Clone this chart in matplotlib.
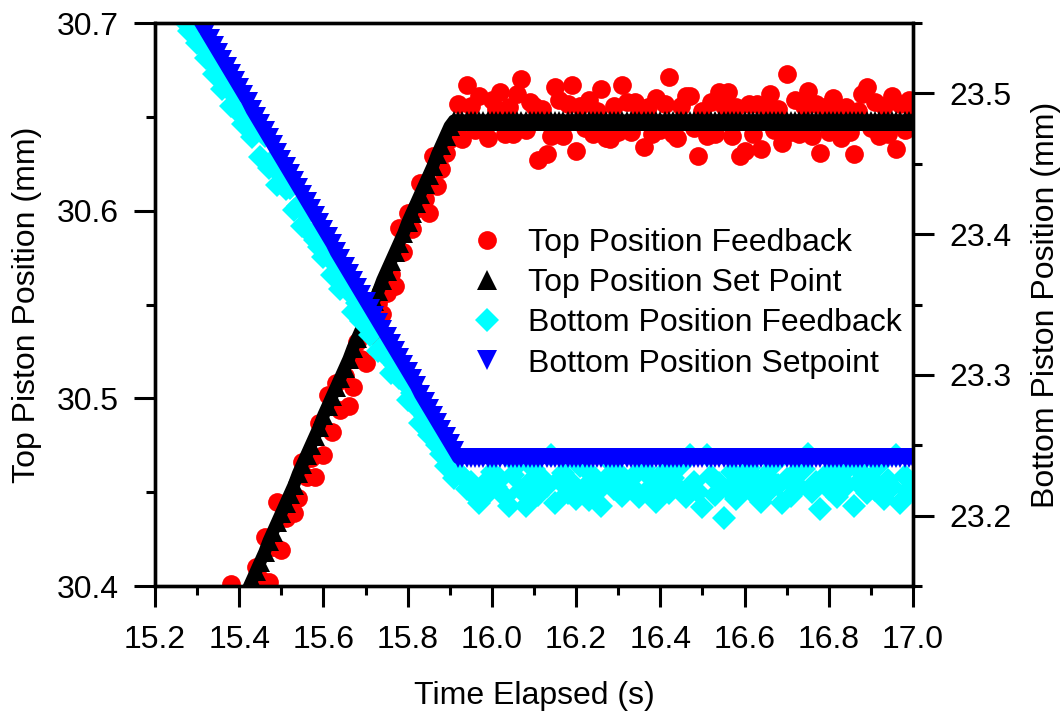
import matplotlib
matplotlib.use("Agg")
import matplotlib.pyplot as plt
from matplotlib.ticker import MultipleLocator, FormatStrFormatter

# sample clock (s), 0.01 s steps
time_s = [
    15.20, 15.21, 15.22, 15.23, 15.24, 15.25, 15.26, 15.27, 15.28, 15.29,
    15.30, 15.31, 15.32, 15.33, 15.34, 15.35, 15.36, 15.37, 15.38, 15.39,
    15.40, 15.41, 15.42, 15.43, 15.44, 15.45, 15.46, 15.47, 15.48, 15.49,
    15.50, 15.51, 15.52, 15.53, 15.54, 15.55, 15.56, 15.57, 15.58, 15.59,
    15.60, 15.61, 15.62, 15.63, 15.64, 15.65, 15.66, 15.67, 15.68, 15.69,
    15.70, 15.71, 15.72, 15.73, 15.74, 15.75, 15.76, 15.77, 15.78, 15.79,
    15.80, 15.81, 15.82, 15.83, 15.84, 15.85, 15.86, 15.87, 15.88, 15.89,
    15.90, 15.91, 15.92, 15.93, 15.94, 15.95, 15.96, 15.97, 15.98, 15.99,
    16.00, 16.01, 16.02, 16.03, 16.04, 16.05, 16.06, 16.07, 16.08, 16.09,
    16.10, 16.11, 16.12, 16.13, 16.14, 16.15, 16.16, 16.17, 16.18, 16.19,
    16.20, 16.21, 16.22, 16.23, 16.24, 16.25, 16.26, 16.27, 16.28, 16.29,
    16.30, 16.31, 16.32, 16.33, 16.34, 16.35, 16.36, 16.37, 16.38, 16.39,
    16.40, 16.41, 16.42, 16.43, 16.44, 16.45, 16.46, 16.47, 16.48, 16.49,
    16.50, 16.51, 16.52, 16.53, 16.54, 16.55, 16.56, 16.57, 16.58, 16.59,
    16.60, 16.61, 16.62, 16.63, 16.64, 16.65, 16.66, 16.67, 16.68, 16.69,
    16.70, 16.71, 16.72, 16.73, 16.74, 16.75, 16.76, 16.77, 16.78, 16.79,
    16.80, 16.81, 16.82, 16.83, 16.84, 16.85, 16.86, 16.87, 16.88, 16.89,
    16.90, 16.91, 16.92, 16.93, 16.94, 16.95, 16.96, 16.97, 16.98, 16.99,
    17.00,
]

# top piston (mm), from 15.37 s to 17.00 s
top_setpoint = [
    30.372, 30.377, 30.382, 30.388, 30.393, 30.398, 30.403, 30.408, 30.413, 30.418,
    30.424, 30.429, 30.434, 30.439, 30.444, 30.449, 30.454, 30.460, 30.465, 30.470,
    30.475, 30.480, 30.485, 30.491, 30.496, 30.501, 30.506, 30.511, 30.516, 30.521,
    30.527, 30.532, 30.537, 30.542, 30.547, 30.552, 30.557, 30.563, 30.568, 30.573,
    30.578, 30.583, 30.588, 30.594, 30.599, 30.604, 30.609, 30.614, 30.619, 30.624,
    30.630, 30.635, 30.640, 30.645,
    30.648, 30.648, 30.648, 30.648, 30.648, 30.648, 30.648, 30.648, 30.648, 30.648,
    30.648, 30.648, 30.648, 30.648, 30.648, 30.648, 30.648, 30.648, 30.648, 30.648,
    30.648, 30.648, 30.648, 30.648, 30.648, 30.648, 30.648, 30.648, 30.648, 30.648,
    30.648, 30.648, 30.648, 30.648, 30.648, 30.648, 30.648, 30.648, 30.648, 30.648,
    30.648, 30.648, 30.648, 30.648, 30.648, 30.648, 30.648, 30.648, 30.648, 30.648,
    30.648, 30.648, 30.648, 30.648, 30.648, 30.648, 30.648, 30.648, 30.648, 30.648,
    30.648, 30.648, 30.648, 30.648, 30.648, 30.648, 30.648, 30.648, 30.648, 30.648,
    30.648, 30.648, 30.648, 30.648, 30.648, 30.648, 30.648, 30.648, 30.648, 30.648,
    30.648, 30.648, 30.648, 30.648, 30.648, 30.648, 30.648, 30.648, 30.648, 30.648,
    30.648, 30.648, 30.648, 30.648, 30.648, 30.648, 30.648, 30.648, 30.648, 30.648,
    30.648, 30.648, 30.648, 30.648, 30.648, 30.648, 30.648, 30.648, 30.648, 30.648,
]
top_feedback = [
    30.366, 30.401, 30.375, 30.384, 30.390, 30.393, 30.396, 30.410, 30.404, 30.426,
    30.402, 30.421, 30.445, 30.419, 30.436, 30.441, 30.439, 30.447, 30.466, 30.458,
    30.468, 30.458, 30.487, 30.470, 30.502, 30.482, 30.508, 30.494, 30.512, 30.496,
    30.506, 30.530, 30.521, 30.519, 30.540, 30.534, 30.551, 30.545, 30.556, 30.566,
    30.560, 30.591, 30.578, 30.599, 30.590, 30.601, 30.615, 30.606, 30.599, 30.629,
    30.613, 30.622, 30.631, 30.638,
    30.641, 30.657, 30.638, 30.667, 30.656, 30.643, 30.661, 30.644, 30.639,
    30.659, 30.654, 30.663, 30.641, 30.655, 30.641, 30.662, 30.670, 30.643, 30.658,
    30.656, 30.627, 30.654, 30.630, 30.640, 30.666, 30.659, 30.640, 30.657, 30.667,
    30.632, 30.656, 30.644, 30.659, 30.641, 30.653, 30.665, 30.639, 30.638, 30.656,
    30.642, 30.667, 30.658, 30.642, 30.658, 30.654, 30.634, 30.655, 30.641, 30.660,
    30.643, 30.657, 30.671, 30.641, 30.639, 30.656, 30.661, 30.661, 30.644, 30.629,
    30.653, 30.640, 30.658, 30.641, 30.663, 30.656, 30.663, 30.640, 30.655, 30.629,
    30.632, 30.657, 30.641, 30.657, 30.633, 30.655, 30.662, 30.643, 30.654, 30.636,
    30.673, 30.642, 30.659, 30.641, 30.656, 30.664, 30.640, 30.657, 30.631, 30.655,
    30.642, 30.660, 30.655, 30.639, 30.655, 30.642, 30.630, 30.653, 30.662, 30.666,
    30.644, 30.658, 30.640, 30.656, 30.641, 30.661, 30.633, 30.657, 30.643, 30.659,
    30.654,
]

# bottom piston (mm), from 15.24 s to 17.00 s
bottom_setpoint = [
    23.584, 23.579, 23.574, 23.569, 23.564, 23.559, 23.554, 23.549, 23.544, 23.539,
    23.534, 23.529, 23.524, 23.519, 23.514, 23.509, 23.504, 23.499, 23.494, 23.488,
    23.483, 23.478, 23.473, 23.468, 23.463, 23.458, 23.453, 23.448, 23.443, 23.438,
    23.433, 23.428, 23.423, 23.418, 23.413, 23.408, 23.403, 23.398, 23.393, 23.387,
    23.382, 23.377, 23.372, 23.367, 23.362, 23.357, 23.352, 23.347, 23.342, 23.337,
    23.332, 23.327, 23.322, 23.317, 23.312, 23.307, 23.302, 23.297, 23.292, 23.286,
    23.281, 23.276, 23.271, 23.266, 23.261, 23.256, 23.251, 23.246, 23.241,
    23.241, 23.241, 23.241, 23.241, 23.241, 23.241, 23.241,
    23.241, 23.241, 23.241, 23.241, 23.241, 23.241, 23.241, 23.241, 23.241, 23.241,
    23.241, 23.241, 23.241, 23.241, 23.241, 23.241, 23.241, 23.241, 23.241, 23.241,
    23.241, 23.241, 23.241, 23.241, 23.241, 23.241, 23.241, 23.241, 23.241, 23.241,
    23.241, 23.241, 23.241, 23.241, 23.241, 23.241, 23.241, 23.241, 23.241, 23.241,
    23.241, 23.241, 23.241, 23.241, 23.241, 23.241, 23.241, 23.241, 23.241, 23.241,
    23.241, 23.241, 23.241, 23.241, 23.241, 23.241, 23.241, 23.241, 23.241, 23.241,
    23.241, 23.241, 23.241, 23.241, 23.241, 23.241, 23.241, 23.241, 23.241, 23.241,
    23.241, 23.241, 23.241, 23.241, 23.241, 23.241, 23.241, 23.241, 23.241, 23.241,
    23.241, 23.241, 23.241, 23.241, 23.241, 23.241, 23.241, 23.241, 23.241, 23.241,
    23.241, 23.241, 23.241, 23.241, 23.241, 23.241, 23.241, 23.241, 23.241, 23.241,
    23.241,
]
bottom_feedback = [
    23.565, 23.561, 23.554, 23.556, 23.544, 23.547, 23.536, 23.535, 23.525, 23.528,
    23.514, 23.517, 23.503, 23.509, 23.491, 23.498, 23.486, 23.478, 23.484, 23.469,
    23.473, 23.455, 23.470, 23.447, 23.453, 23.435, 23.442, 23.432, 23.433, 23.417,
    23.420, 23.406, 23.414, 23.400, 23.396, 23.391, 23.384, 23.387, 23.371, 23.378,
    23.361, 23.372, 23.359, 23.345, 23.351, 23.338, 23.342, 23.328, 23.334, 23.317,
    23.320, 23.313, 23.301, 23.307, 23.298, 23.296, 23.282, 23.287, 23.277, 23.266,
    23.271, 23.257, 23.261, 23.250, 23.244, 23.235, 23.238, 23.227, 23.231,
    23.228, 23.219, 23.224, 23.214, 23.209, 23.222, 23.216,
    23.231, 23.220, 23.226, 23.213, 23.207, 23.229, 23.236, 23.218, 23.207, 23.224,
    23.233, 23.215, 23.227, 23.221, 23.243, 23.209, 23.225, 23.230, 23.216, 23.223,
    23.212, 23.235, 23.220, 23.211, 23.228, 23.217, 23.207, 23.226, 23.238, 23.219,
    23.231, 23.214, 23.224, 23.221, 23.229, 23.213, 23.234, 23.218, 23.226, 23.210,
    23.222, 23.232, 23.216, 23.227, 23.220, 23.236, 23.213, 23.243, 23.224, 23.217,
    23.206, 23.243, 23.228, 23.215, 23.223, 23.198, 23.219, 23.231, 23.212, 23.227,
    23.221, 23.234, 23.216, 23.225, 23.210, 23.229, 23.218, 23.237, 23.222, 23.209,
    23.226, 23.214, 23.230, 23.220, 23.233, 23.244, 23.217, 23.224, 23.205, 23.228,
    23.219, 23.232, 23.213, 23.226, 23.221, 23.235, 23.207, 23.223, 23.230, 23.216,
    23.227, 23.218, 23.236, 23.212, 23.225, 23.220, 23.243, 23.209, 23.228, 23.216,
    23.222,
]

labels = ["Top Position Feedback", "Top Position Set Point",
          "Bottom Position Feedback", "Bottom Position Setpoint"]


def tail(t, vals):
    # series all end at the last sample, they just start later
    return t[-len(vals):]


plt.rcParams["font.family"] = ["Liberation Sans", "DejaVu Sans"]
plt.rcParams["font.size"] = 23

fig = plt.figure(figsize=(10.64, 7.13), dpi=100)
ax = fig.add_axes([0.1457, 0.1781, 0.7124, 0.7896])
ax2 = ax.twinx()

# top piston on the left axis
h1, = ax.plot(tail(time_s, top_feedback), top_feedback, "o", color="#ff0000",
              ms=13.5, mew=0)
# setpoints are dense enough in the original to read as a solid band
ax.plot(tail(time_s, top_setpoint), top_setpoint, "-", color="black", lw=9)
h2, = ax.plot(tail(time_s, top_setpoint), top_setpoint, "^", color="black",
              ms=14, mew=0)

# bottom piston on the right axis
h3, = ax2.plot(tail(time_s, bottom_feedback), bottom_feedback, "D", color="#00ffff",
               ms=12, mew=0)
ax2.plot(tail(time_s, bottom_setpoint), bottom_setpoint, "-", color="#0000ff", lw=9)
h4, = ax2.plot(tail(time_s, bottom_setpoint), bottom_setpoint, "v", color="#0000ff",
               ms=14, mew=0)

ax.set_xlim(15.2, 17.0)
ax.set_ylim(30.4, 30.7)
ax2.set_ylim(23.15, 23.55)

ax.xaxis.set_major_locator(MultipleLocator(0.2))
ax.xaxis.set_minor_locator(MultipleLocator(0.1))
ax.xaxis.set_major_formatter(FormatStrFormatter("%.1f"))
ax.yaxis.set_major_locator(MultipleLocator(0.1))
ax.yaxis.set_minor_locator(MultipleLocator(0.05))
ax.yaxis.set_major_formatter(FormatStrFormatter("%.1f"))
ax2.yaxis.set_major_locator(MultipleLocator(0.1))
ax2.yaxis.set_minor_locator(MultipleLocator(0.05))
ax2.yaxis.set_major_formatter(FormatStrFormatter("%.1f"))

for a in (ax, ax2):
    for s in a.spines.values():
        s.set_linewidth(2.4)
    a.tick_params(which="major", direction="out", length=15, width=2.2, pad=11, labelsize=23)
    a.tick_params(which="minor", direction="out", length=6.5, width=2.2)
ax.tick_params(which="both", top=False, right=False)
ax2.tick_params(which="both", left=False, top=False)
ax.tick_params(axis="x", which="major", pad=13)

ax.set_xlabel("Time Elapsed (s)", fontsize=23, labelpad=19)
ax.set_ylabel("Top Piston Position (mm)", fontsize=23, labelpad=11)
ax2.set_ylabel("Bottom Piston Position (mm)", fontsize=23, labelpad=14)

ax2.legend([h1, h2, h3, h4], labels, loc="upper left", bbox_to_anchor=(0.417, 0.636),
           frameon=False, fontsize=23, handlelength=1.0, handletextpad=0.78,
           labelspacing=0.32, borderpad=0, borderaxespad=0, numpoints=1)

fig.savefig("out.png", dpi=100)
